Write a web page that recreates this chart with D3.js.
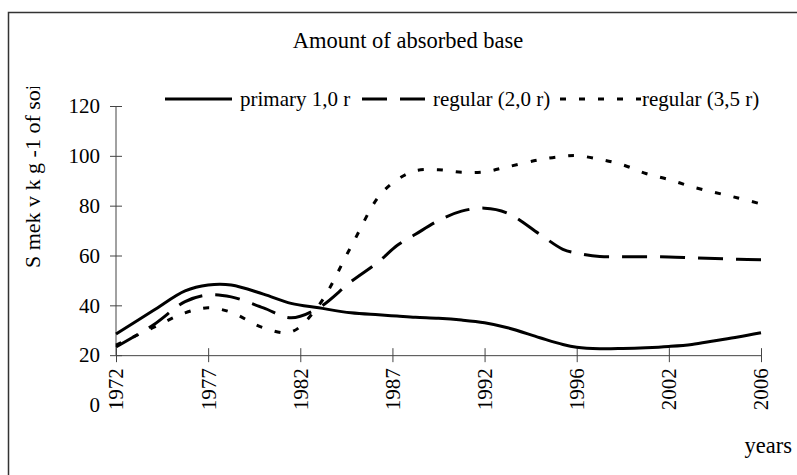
<!DOCTYPE html>
<html>
<head>
<meta charset="utf-8">
<script src="https://cdn.jsdelivr.net/npm/d3@7"></script>
<style>
  body { margin: 0; background: #fff; }
  svg { display: block; font-family: "Liberation Serif", "Times New Roman", serif; }
</style>
</head>
<body>
<div id="chart"></div>
<script>
// tick labels on the (category) x axis, evenly spaced
const yearLabels = ["1972", "1977", "1982", "1987", "1992", "1996", "2002", "2006"];

// positions of the data points, in units of label slots (0 = 1972, 7 = 2006)
const pos = [0, 0.4, 0.75, 1, 1.25, 1.6, 1.9, 2.2, 2.55, 2.85, 3.05, 3.25, 3.5, 3.75,
  4, 4.25, 4.6, 4.85, 5, 5.25, 5.5, 5.75, 6, 6.25, 6.5, 6.75, 7];

const primary = [28.5, 37.8, 45.8, 48.2, 48.2, 44.5, 40.8, 39, 37, 36.2, 35.7, 35.2, 34.8, 34.1,
  33, 31, 27, 24.3, 23.2, 22.6, 22.7, 23, 23.5, 24.3, 25.8, 27.3, 29];
const regular20 = [23.3, 32, 41.5, 44.2, 43.4, 39, 35, 39, 49.5, 57.5, 64, 68.5, 74, 77.8,
  79, 77, 68.5, 62.5, 61, 59.6, 59.5, 59.5, 59.4, 59.1, 58.8, 58.5, 58.3];
const regular35 = [24, 31, 37, 39, 37.2, 31, 29.3, 40, 63.5, 83.6, 90.4, 94, 94.4, 93.4,
  93.6, 95.6, 98.5, 99.8, 100.1, 98.6, 96.4, 92.9, 90.5, 87.6, 85.3, 83.1, 80.7];

const yTicks = [0, 20, 40, 60, 80, 100, 120];

const seriesNames = ["primary 1,0 r", "regular (2,0 r)", "regular (3,5 r)"];
const dashes = [null, "25,13", "6,13"];
const series = [primary, regular20, regular35];

const width = 797, height = 475;

const svg = d3.select("#chart").append("svg")
  .attr("width", width)
  .attr("height", height);

// outer frame (runs off the right and bottom edge)
svg.append("rect")
  .attr("x", 8.5).attr("y", 12.5)
  .attr("width", 820).attr("height", 500)
  .attr("fill", "none")
  .attr("stroke", "#333")
  .attr("stroke-width", 1.5);

const x = d3.scaleLinear().domain([0, yearLabels.length - 1]).range([116, 761]);
const y = d3.scaleLinear().domain([0, 120]).range([405, 106]);

// title
svg.append("text")
  .attr("x", 408).attr("y", 48)
  .attr("text-anchor", "middle")
  .attr("font-size", 22.5)
  .text("Amount of absorbed base");

// y axis
const yAxis = svg.append("g")
  .attr("transform", "translate(116,0)")
  .call(d3.axisLeft(y).tickValues(yTicks).tickSize(0).tickPadding(16));
yAxis.select(".domain").remove();
yAxis.selectAll(".tick text")
  .attr("font-family", "Liberation Serif")
  .attr("font-size", 21)
  .attr("fill", "#000");
yAxis.selectAll(".tick").append("line")
  .attr("x1", -6).attr("x2", 6)
  .attr("stroke", "#444");
yAxis.append("line")
  .attr("y1", y(20)).attr("y2", y(120))
  .attr("stroke", "#444");

// x axis, crossing at 20
const xAxis = svg.append("g")
  .attr("transform", `translate(0,${y(20)})`)
  .call(d3.axisBottom(x).tickValues(d3.range(yearLabels.length))
    .tickFormat((i) => yearLabels[i]).tickSize(0));
xAxis.select(".domain").attr("stroke", "#444");
xAxis.selectAll(".tick line").remove();
xAxis.selectAll(".tick").append("line")
  .attr("y1", -7).attr("y2", 7)
  .attr("stroke", "#444");
xAxis.selectAll(".tick text")
  .attr("font-family", "Liberation Serif")
  .attr("font-size", 21)
  .attr("fill", "#000")
  .attr("text-anchor", "end")
  .attr("transform", "translate(0,13) rotate(-90)")
  .attr("x", 0).attr("y", 0)
  .attr("dy", "0.33em");

// y axis title, clipped at the top like the original
svg.append("clipPath").attr("id", "ytclip")
  .append("rect").attr("x", 0).attr("y", 87).attr("width", 60).attr("height", 300);
svg.append("g")
  .attr("clip-path", "url(#ytclip)")
  .append("text")
  .attr("transform", "translate(40,268) rotate(-90)")
  .attr("font-size", 22)
  .text("S mek v k g -1 of soil");

// years label
svg.append("text")
  .attr("x", 792).attr("y", 453)
  .attr("text-anchor", "end")
  .attr("font-size", 22.5)
  .text("years");

// lines
const line = d3.line()
  .x((d, i) => x(pos[i]))
  .y((d) => y(d))
  .curve(d3.curveCatmullRom.alpha(0.5));

svg.selectAll("path.series")
  .data(series)
  .enter()
  .append("path")
  .attr("class", "series")
  .attr("d", (d) => line(d))
  .attr("fill", "none")
  .attr("stroke", "#000")
  .attr("stroke-width", 3)
  .attr("stroke-dasharray", (d, i) => dashes[i]);

// legend
const legendX = [165, 362, 560];
const legendLen = [67, 63, 81];
const legend = svg.selectAll("g.legend")
  .data(seriesNames)
  .enter()
  .append("g")
  .attr("class", "legend")
  .attr("transform", (d, i) => `translate(${legendX[i]},99)`);

legend.append("line")
  .attr("x1", 0).attr("x2", (d, i) => legendLen[i])
  .attr("stroke", "#000")
  .attr("stroke-width", 3)
  .attr("stroke-dasharray", (d, i) => dashes[i]);

legend.append("text")
  .attr("x", (d, i) => legendLen[i] + (i === 2 ? 1 : 8))
  .attr("y", 7)
  .attr("font-size", 21)
  .text((d) => d);
</script>
</body>
</html>
